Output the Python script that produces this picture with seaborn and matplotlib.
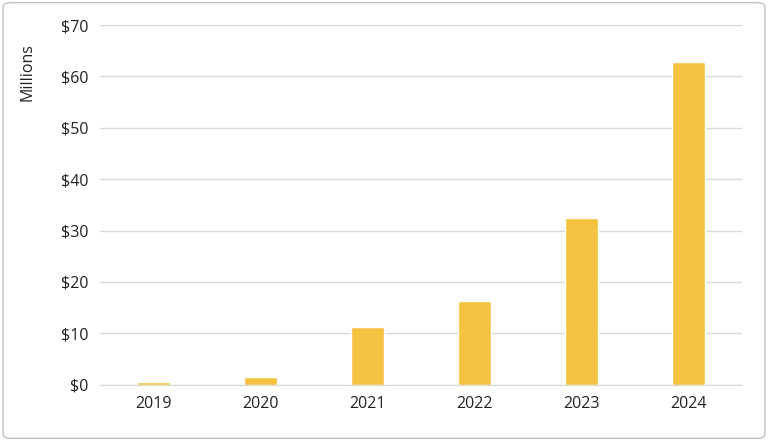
import matplotlib
matplotlib.use('Agg')
import matplotlib.pyplot as plt
import seaborn as sns
import pandas as pd
from matplotlib.patches import FancyBboxPatch

years = ['2019', '2020', '2021', '2022', '2023', '2024']
values = [0.4, 1.4, 11.3, 16.2, 32.4, 62.8]
yticks = [0, 10, 20, 30, 40, 50, 60, 70]

sns.set_style('white')
plt.rcParams['font.family'] = ['Open Sans', 'DejaVu Sans']

df = pd.DataFrame({'year': years, 'value': values})
fig = plt.figure(figsize=(7.68, 4.41), dpi=100)
ax = fig.add_axes([0.13, 0.128, 0.836, 0.815])
sns.barplot(data=df, x='year', y='value', color='#F5C242', saturation=1, width=0.31, ax=ax)

ax.set_ylim(0, 70)
ax.set_yticks(yticks)
ax.set_yticklabels(['$' + str(t) for t in yticks], fontsize=11.5, color='#222222')
ax.tick_params(axis='x', labelsize=11.5, colors='#222222', length=0, pad=8)
ax.tick_params(axis='y', length=0, pad=8)
ax.grid(axis='y', color='#d9d9d9', linewidth=1)
ax.set_axisbelow(True)
for s in ['top', 'right', 'left']:
    ax.spines[s].set_visible(False)
ax.spines['bottom'].set_color('#d9d9d9')
ax.set_xlabel('')
ax.set_ylabel('Millions', fontsize=11.5, color='#222222')
ax.yaxis.set_label_coords(-0.1, 0.87)

border = FancyBboxPatch((0.004, 0.006), 0.992, 0.988, boxstyle='round,pad=0,rounding_size=0.01',
                        transform=fig.transFigure, fill=False, edgecolor='#bfbfbf', linewidth=1)
fig.patches.append(border)

fig.savefig('out.png', dpi=100)
